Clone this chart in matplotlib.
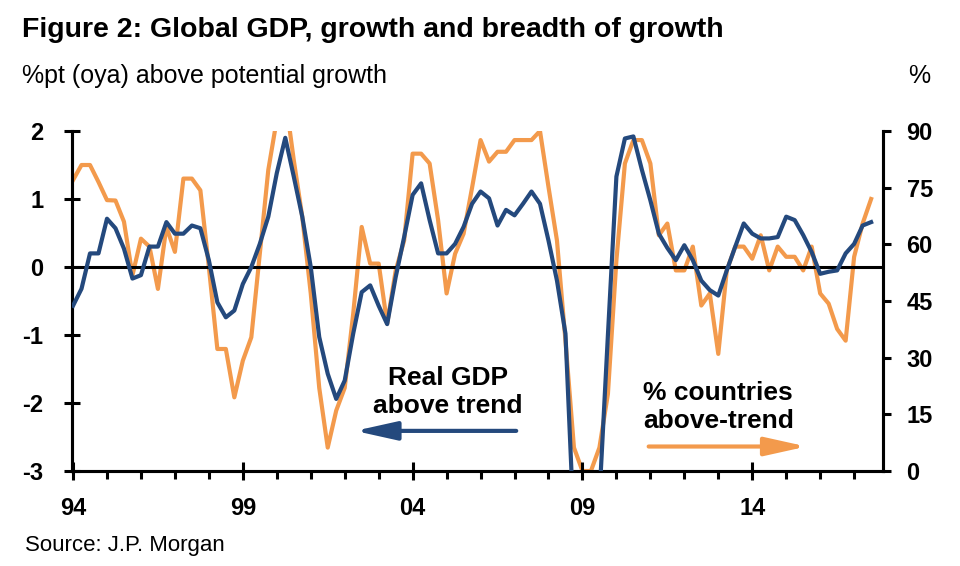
import numpy as np
import matplotlib
matplotlib.use('Agg')
import matplotlib.pyplot as plt
from matplotlib.ticker import MultipleLocator, FixedLocator

plt.rcParams['font.family'] = ['Liberation Sans Narrow', 'Liberation Sans', 'DejaVu Sans']

# quarterly data, 1994Q1 .. 2017Q3
start_year = 1994
gdp_above_trend = [
    -0.57, -0.32, 0.20, 0.20,    # 1994
    0.71, 0.57, 0.27, -0.17,     # 1995
    -0.12, 0.30, 0.30, 0.66,     # 1996
    0.49, 0.49, 0.61, 0.57,      # 1997
    0.10, -0.52, -0.74, -0.64,   # 1998
    -0.25, 0.00, 0.34, 0.74,     # 1999
    1.38, 1.90, 1.33, 0.74,      # 2000
    0.00, -1.03, -1.57, -1.94,   # 2001
    -1.67, -0.98, -0.37, -0.27,  # 2002
    -0.57, -0.84, -0.15, 0.44,   # 2003
    1.06, 1.23, 0.69, 0.20,      # 2004
    0.20, 0.34, 0.59, 0.93,      # 2005
    1.11, 1.01, 0.61, 0.84,      # 2006
    0.76, 0.93, 1.11, 0.93,      # 2007
    0.39, -0.20, -0.98, -3.85,   # 2008
    -4.60, -4.40, -3.40, -1.00,  # 2009
    1.33, 1.89, 1.92, 1.43,      # 2010
    0.98, 0.49, 0.28, 0.10,      # 2011
    0.32, 0.10, -0.20, -0.34,    # 2012
    -0.42, -0.05, 0.30, 0.64,    # 2013
    0.49, 0.42, 0.42, 0.44,      # 2014
    0.74, 0.69, 0.47, 0.22,      # 2015
    -0.10, -0.07, -0.05, 0.20,   # 2016
    0.34, 0.61, 0.66,            # 2017
]
pct_countries = [
    77.0, 81.0, 81.0, 76.5,      # 1994
    71.7, 71.6, 66.0, 51.8,      # 1995
    61.5, 59.4, 48.2, 64.6,      # 1996
    58.0, 77.4, 77.4, 74.3,      # 1997
    54.0, 32.3, 32.3, 19.5,      # 1998
    29.2, 35.4, 57.5, 79.7,      # 1999
    93.0, 99.0, 82.3, 67.3,      # 2000
    47.0, 22.0, 6.2, 16.0,       # 2001
    22.0, 41.6, 64.6, 54.9,      # 2002
    54.9, 39.0, 53.0, 61.0,      # 2003
    84.0, 84.0, 81.4, 66.4,      # 2004
    47.0, 57.5, 62.8, 75.0,      # 2005
    87.6, 81.9, 84.5, 84.5,      # 2006
    87.6, 87.6, 87.6, 90.0,      # 2007
    75.2, 61.0, 34.5, 6.2,       # 2008
    0.0, 0.0, 6.2, 20.4,         # 2009
    55.8, 81.4, 87.6, 87.6,      # 2010
    81.4, 62.4, 65.5, 53.1,      # 2011
    53.1, 59.4, 43.8, 47.0,      # 2012
    31.0, 53.1, 59.4, 59.4,      # 2013
    56.2, 62.4, 53.1, 59.4,      # 2014
    56.7, 56.7, 53.1, 59.4,      # 2015
    47.0, 44.3, 37.6, 34.5,      # 2016
    56.7, 65.5, 72.0,            # 2017
]
year_ticks = [1994, 1999, 2004, 2009, 2014]
year_labels = ['94', '99', '04', '09', '14']
left_ticks = [-3, -2, -1, 0, 1, 2]
right_ticks = [0, 15, 30, 45, 60, 75, 90]

navy = '#24497D'
orange = '#F39A4C'

t = start_year + np.arange(len(gdp_above_trend)) / 4.0

fig = plt.figure(figsize=(9.6, 5.66), dpi=100)
ax = fig.add_axes([72 / 960, 1 - 471 / 566, (883 - 72) / 960, (471 - 131) / 566])
ax2 = ax.twinx()

ax.plot(t, gdp_above_trend, color=navy, lw=3, solid_joinstyle='round', zorder=3)
ax2.plot(t, pct_countries, color=orange, lw=3, solid_joinstyle='round', zorder=3)
ax.axhline(0, color='black', lw=2.2, zorder=2)

ax.set_xlim(1993.97, 2017.85)
ax.set_ylim(-3, 2)
ax2.set_ylim(0, 90)
ax.set_zorder(ax2.get_zorder() + 1)
ax.patch.set_visible(False)

for a in (ax, ax2):
    a.spines['top'].set_visible(False)
    for s in ('left', 'right', 'bottom'):
        a.spines[s].set_linewidth(2.2)

ax.xaxis.set_major_locator(FixedLocator(year_ticks))
ax.set_xticklabels(year_labels)
ax.xaxis.set_minor_locator(MultipleLocator(1))
ax.set_yticks(left_ticks)
ax.set_yticklabels([str(v) for v in left_ticks])
ax2.set_yticks(right_ticks)
ax2.set_yticklabels([str(v) for v in right_ticks])

ax.tick_params(axis='x', which='major', direction='inout', length=13, width=2.2, pad=12)
ax.tick_params(axis='x', which='minor', direction='out', length=6, width=2.2)
ax.tick_params(axis='y', direction='inout', length=11, width=2.2, pad=15)
ax2.tick_params(axis='y', direction='out', length=6, width=2.2, pad=11)

for lab in ax.get_xticklabels() + ax.get_yticklabels() + ax2.get_yticklabels():
    lab.set_fontsize(17)
    lab.set_fontweight('bold')

# annotations
ax.text(2005.04, -1.84, 'Real GDP\nabove trend', ha='center', va='center',
        fontsize=19, fontweight='bold', linespacing=1.25)
ax.annotate('', xy=(2002.3, -2.41), xytext=(2007.05, -2.41),
            arrowprops=dict(arrowstyle='-|>,head_length=1.8,head_width=0.4',
                            color=navy, lw=3, mutation_scale=14, shrinkA=0, shrinkB=0))
ax.text(2013.0, -2.06, '% countries\nabove-trend', ha='center', va='center',
        fontsize=19, fontweight='bold', linespacing=1.25)
ax.annotate('', xy=(2015.6, -2.64), xytext=(2010.95, -2.64),
            arrowprops=dict(arrowstyle='-|>,head_length=1.8,head_width=0.4',
                            color=orange, lw=3, mutation_scale=14, shrinkA=0, shrinkB=0))

fig.text(22 / 960, 1 - 30 / 566, 'Figure 2: Global GDP, growth and breadth of growth',
         fontsize=20.5, fontweight='bold', va='center', ha='left')
fig.text(22 / 960, 1 - 76 / 566, '%pt (oya) above potential growth',
         fontsize=18, va='center', ha='left')
fig.text(930 / 960, 1 - 76 / 566, '%', fontsize=18, va='center', ha='right')
fig.text(25 / 960, 1 - 545 / 566, 'Source: J.P. Morgan', fontsize=16, va='center', ha='left')

fig.savefig('out.png', dpi=100)
